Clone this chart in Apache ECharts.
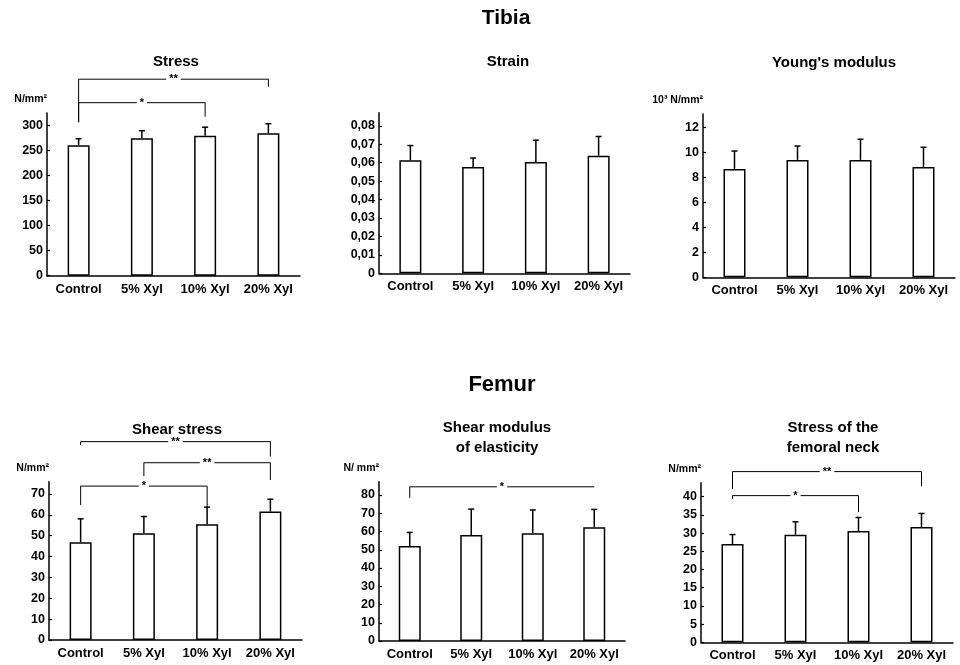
<!DOCTYPE html>
<html><head><meta charset="utf-8">
<script src="https://cdn.jsdelivr.net/npm/echarts@6/dist/echarts.min.js"></script>
<style>html,body{margin:0;padding:0;background:#fff}#c{width:960px;height:665px}</style>
</head><body><div id="c"></div>
<script>
// ---------- data ----------
const categories = ['Control', '5% Xyl', '10% Xyl', '20% Xyl'];

const stressMean = [261, 275, 280, 285];
const stressSD = [13, 15, 17, 19];
const stressTicks = [0, 50, 100, 150, 200, 250, 300];
const stressBrackets = [[0, 3, 393, 307, 378], [0, 2, 346, 307, 318]];
const stressBracketLabels = ['**', '*'];

const strainMean = [0.0613, 0.0577, 0.0603, 0.0638];
const strainSD = [0.0080, 0.0048, 0.0119, 0.0104];
const strainTicks = [0, 0.01, 0.02, 0.03, 0.04, 0.05, 0.06, 0.07, 0.08];

const youngMean = [8.67, 9.39, 9.39, 8.83];
const youngSD = [1.43, 1.11, 1.65, 1.57];
const youngTicks = [0, 2, 4, 6, 8, 10, 12];

const shearStressMean = [46.9, 51.2, 55.5, 61.6];
const shearStressSD = [11.2, 8.0, 8.2, 5.9];
const shearStressTicks = [0, 10, 20, 30, 40, 50, 60, 70];
const shearStressBrackets = [[0, 3, 95.1, 93.5, 87.9], [1, 3, 85.0, 78.6, 76.7], [0, 2, 73.8, 64.7, 63.8]];
const shearStressBracketLabels = ['**', '**', '*'];

const shearModMean = [52.0, 58.1, 59.0, 62.3];
const shearModSD = [7.5, 14.2, 12.8, 9.8];
const shearModTicks = [0, 10, 20, 30, 40, 50, 60, 70, 80];
const shearModBrackets = [[0, 3, 84.5, 78.4, 84.5]];
const shearModBracketLabels = ['*'];

const neckMean = [27.0, 29.55, 30.56, 31.66];
const neckSD = [2.6, 3.55, 3.74, 3.74];
const neckTicks = [0, 5, 10, 15, 20, 25, 30, 35, 40];
const neckBrackets = [[0, 3, 46.9, 42.1, 42.9], [0, 2, 40.3, 39.4, 35.8]];
const neckBracketLabels = ['**', '*'];

// ---------- layout ----------
const FONT = '"Liberation Sans", Arial, sans-serif';
const panels = [
  { grid: { left: 47, top: 113, width: 253, height: 162.7 }, max: 325.4, ticks: stressTicks, mean: stressMean, sd: stressSD, unit: 'N/mm²', br: stressBrackets, brl: stressBracketLabels, fmt: v => String(v) },
  { grid: { left: 379, top: 112.7, width: 251, height: 160.6 }, max: 0.0871, ticks: strainTicks, mean: strainMean, sd: strainSD, unit: '', br: [], brl: [], fmt: v => v === 0 ? '0' : v.toFixed(2).replace('.', ',') },
  { grid: { left: 703, top: 114, width: 252, height: 163.3 }, max: 13.06, ticks: youngTicks, mean: youngMean, sd: youngSD, unit: '10³ N/mm²', br: [], brl: [], fmt: v => String(v) },
  { grid: { left: 49, top: 481.7, width: 253, height: 158.3 }, max: 75.9, ticks: shearStressTicks, mean: shearStressMean, sd: shearStressSD, unit: 'N/mm²', br: shearStressBrackets, brl: shearStressBracketLabels, fmt: v => String(v) },
  { grid: { left: 379, top: 481.7, width: 246, height: 159.3 }, max: 87.3, ticks: shearModTicks, mean: shearModMean, sd: shearModSD, unit: 'N/ mm²', br: shearModBrackets, brl: shearModBracketLabels, fmt: v => String(v) },
  { grid: { left: 701, top: 482.7, width: 252, height: 159.6 }, max: 43.85, ticks: neckTicks, mean: neckMean, sd: neckSD, unit: 'N/mm²', br: neckBrackets, brl: neckBracketLabels, fmt: v => String(v) }
];

const titles = [
  { text: 'Tibia', left: 501, top: 3, size: 21 },
  { text: 'Femur', left: 497, top: 370, size: 22 },
  { text: 'Stress', left: 171, top: 47, size: 15 },
  { text: 'Strain', left: 503, top: 47, size: 15 },
  { text: "Young's modulus", left: 829, top: 48, size: 15 },
  { text: 'Shear stress', left: 172, top: 415, size: 15 },
  { text: 'Shear modulus\nof elasticity', left: 492, top: 413, size: 15 },
  { text: 'Stress of the\nfemoral neck', left: 828, top: 413, size: 15 }
];

const grids = [], xAxes = [], yAxes = [], series = [];
panels.forEach((p, k) => {
  grids.push(Object.assign({ outerBoundsMode: 'none', containLabel: false }, p.grid));
  xAxes.push({
    type: 'category', gridIndex: k, data: categories, boundaryGap: true,
    axisLine: { lineStyle: { color: '#000', width: 1.5 } },
    axisTick: { show: false },
    axisLabel: { color: '#000', fontFamily: FONT, fontWeight: 'bold', fontSize: 13, margin: 7, interval: 0 },
    splitLine: { show: false }
  });
  yAxes.push({
    type: 'value', gridIndex: k, min: 0, max: p.max,
    name: p.unit, nameLocation: 'end', nameGap: 8,
    nameTextStyle: { color: '#000', fontFamily: FONT, fontWeight: 'bold', fontSize: 10.5, align: 'right', padding: [0, 0, 0, 0] },
    axisLine: { show: true, lineStyle: { color: '#000', width: 1.5 } },
    axisTick: { show: true, inside: true, length: 3, lineStyle: { color: '#000', width: 1.2 }, customValues: p.ticks },
    axisLabel: { color: '#000', fontFamily: FONT, fontWeight: 'bold', fontSize: 12.5, margin: 4, customValues: p.ticks, formatter: p.fmt },
    splitLine: { show: false }
  });
  series.push({
    type: 'bar', xAxisIndex: k, yAxisIndex: k, barWidth: 22,
    data: p.mean,
    itemStyle: { color: '#fff', borderColor: '#000', borderWidth: 1.5 },
    silent: true
  });
  series.push({
    type: 'custom', xAxisIndex: k, yAxisIndex: k, z: 5, silent: true,
    data: p.mean.map((m, i) => [i, m, m + p.sd[i]]),
    renderItem: (params, api) => {
      const a = api.coord([api.value(0), api.value(1)]);
      const b = api.coord([api.value(0), api.value(2)]);
      return { type: 'group', children: [
        { type: 'line', shape: { x1: a[0], y1: a[1], x2: b[0], y2: b[1] }, style: { stroke: '#000', lineWidth: 1.5 } },
        { type: 'line', shape: { x1: b[0] - 3, y1: b[1], x2: b[0] + 3, y2: b[1] }, style: { stroke: '#000', lineWidth: 1.5 } }
      ] };
    }
  });
  if (p.br.length) {
    series.push({
      type: 'custom', xAxisIndex: k, yAxisIndex: k, z: 6, silent: true, clip: false,
      data: p.br,
      renderItem: (params, api) => {
        const i1 = api.value(0), i2 = api.value(1);
        const L = api.coord([i1, api.value(3)]);
        const T1 = api.coord([i1, api.value(2)]);
        const T2 = api.coord([i2, api.value(2)]);
        const R = api.coord([i2, api.value(4)]);
        const lbl = p.brl[params.dataIndex];
        return { type: 'group', children: [
          { type: 'polyline', shape: { points: [L, T1, T2, R] }, style: { stroke: '#000', lineWidth: 1, fill: null } },
          { type: 'text', x: (T1[0] + T2[0]) / 2, y: T1[1], style: { text: lbl, fill: '#000', font: 'bold 11px ' + FONT, align: 'center', verticalAlign: 'middle', backgroundColor: '#fff', padding: [0, 3] } }
        ] };
      }
    });
  }
});

const chart = echarts.init(document.getElementById('c'), null, { renderer: 'canvas' });
chart.setOption({
  backgroundColor: '#fff',
  animation: false,
  title: titles.map(t => ({
    text: t.text, left: t.left, top: t.top, textAlign: 'center',
    textStyle: { color: '#000', fontFamily: FONT, fontWeight: 'bold', fontSize: t.size, lineHeight: 20 }
  })),
  grid: grids, xAxis: xAxes, yAxis: yAxes, series: series
});
</script></body></html>
